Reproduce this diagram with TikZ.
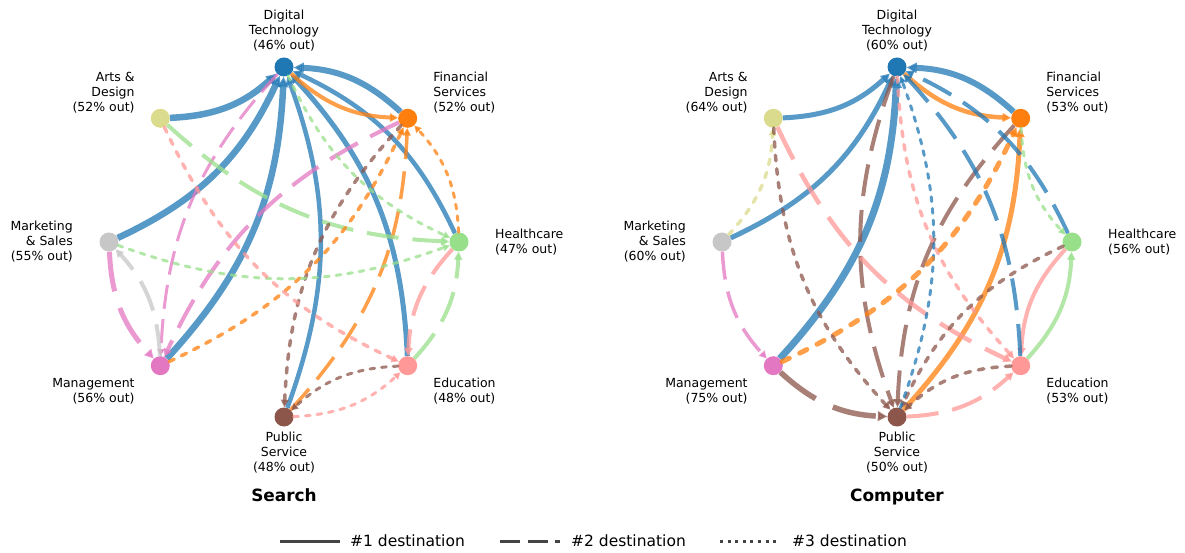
\documentclass[tikz,border=0pt]{standalone}
\usepackage{fontspec}
\setmainfont{DejaVu Sans}
\usetikzlibrary{arrows.meta, positioning}
\definecolor{dtblue}{HTML}{1F77B4}
\definecolor{fsorange}{HTML}{FF7F0E}
\definecolor{hcgreen}{HTML}{98DF8A}
\definecolor{edred}{HTML}{FF9896}
\definecolor{psbrown}{HTML}{8C564B}
\definecolor{mgpink}{HTML}{E377C2}
\definecolor{msgray}{HTML}{C7C7C7}
\definecolor{adolive}{HTML}{DBDB8D}
\definecolor{leggray}{HTML}{444444}
\tikzset{
  hub/.style={circle, inner sep=0pt, minimum size=19pt},
  tag/.style={inner sep=0pt, font=\fontsize{12.5}{15}\selectfont},
  flow/.style={opacity=0.75, -{Triangle[length=4pt 1, width=4pt 1]}},
  first/.style={flow, line width=#1pt},
  second/.style={flow, line width=#1pt, dash pattern=on 8*#1pt off 3.5*#1pt},
  third/.style={flow, line width=#1pt, line cap=round, dash pattern=on 1.6*#1pt off 2.3*#1pt},
  legline/.style={leggray, line width=3pt},
}

\begin{document}
\begin{tikzpicture}[x=1pt, y=1pt]
  \useasboundingbox (0,0) rectangle (1185,552);

  % Search
  \node[hub, fill=dtblue] (sdt) at (284,485) {};
  \node[hub, fill=fsorange] (sfs) at (407.7,433.7) {};
  \node[hub, fill=hcgreen] (shc) at (459,310) {};
  \node[hub, fill=edred] (sed) at (407.7,186.3) {};
  \node[hub, fill=psbrown] (sps) at (284,135) {};
  \node[hub, fill=mgpink] (smg) at (160.3,186.3) {};
  \node[hub, fill=msgray] (sms) at (109,310) {};
  \node[hub, fill=adolive] (sad) at (160.3,433.7) {};

  \node[tag, align=center] (sdt-tag) at (284,521) {Digital\\Technology\\(46\% out)};
  \node[tag, align=left, anchor=west] (sfs-tag) at (433.2,459.2) {Financial\\Services\\(52\% out)};
  \node[tag, align=left, anchor=west] (shc-tag) at (495,310) {Healthcare\\(47\% out)};
  \node[tag, align=left, anchor=west] (sed-tag) at (433.2,160.8) {Education\\(48\% out)};
  \node[tag, align=center] (sps-tag) at (284,99) {Public\\Service\\(48\% out)};
  \node[tag, align=right, anchor=east] (smg-tag) at (134.8,160.8) {Management\\(56\% out)};
  \node[tag, align=right, anchor=east] (sms-tag) at (73,310) {Marketing\\\& Sales\\(55\% out)};
  \node[tag, align=right, anchor=east] (sad-tag) at (134.8,459.2) {Arts \&\\Design\\(52\% out)};

  \draw[first=6.5, dtblue] (sad) to[bend right=20] (sdt);
  \draw[first=6.5, dtblue] (sms) to[bend right=20] (sdt);
  \draw[first=6.5, dtblue] (smg) to[bend right=20] (sdt);
  \draw[first=6, dtblue] (sfs) to[bend right=20] (sdt);
  \draw[first=4.5, dtblue] (shc) to[bend right=20] (sdt);
  \draw[first=5, dtblue] (sed) to[bend right=20] (sdt);
  \draw[first=4.5, dtblue] (sps) to[bend right=20] (sdt);
  \draw[first=4, fsorange] (sdt) to[bend right=20] (sfs);

  \draw[second=3, mgpink] (sdt) to[bend right=20] (smg);
  \draw[second=4, mgpink] (sfs) to[bend right=20] (smg);
  \draw[second=4, edred] (shc) to[bend right=20] (sed);
  \draw[second=4, hcgreen] (sed) to[bend right=20] (shc);
  \draw[second=3.5, fsorange] (sps) to[bend right=20] (sfs);
  \draw[second=4, msgray] (smg) to[bend right=20] (sms);
  \draw[second=5, mgpink] (sms) to[bend right=20] (smg);
  \draw[second=4, hcgreen] (sad) to[bend right=20] (shc);

  \draw[third=3, hcgreen] (sdt) to[bend right=20] (shc);
  \draw[third=3.5, psbrown] (sfs) to[bend right=20] (sps);
  \draw[third=3, fsorange] (shc) to[bend right=20] (sfs);
  \draw[third=3, psbrown] (sed) to[bend right=20] (sps);
  \draw[third=3, edred] (sps) to[bend right=20] (sed);
  \draw[third=3.5, fsorange] (smg) to[bend right=20] (sfs);
  \draw[third=3, hcgreen] (sms) to[bend right=20] (shc);
  \draw[third=3.5, edred] (sad) to[bend right=20] (sed);

  \node[anchor=base, font=\fontsize{16.9}{20}\selectfont\bfseries] (stitle) at (284,51) {Search};

  % Computer
  \node[hub, fill=dtblue] (cdt) at (897,485) {};
  \node[hub, fill=fsorange] (cfs) at (1020.7,433.7) {};
  \node[hub, fill=hcgreen] (chc) at (1072,310) {};
  \node[hub, fill=edred] (ced) at (1020.7,186.3) {};
  \node[hub, fill=psbrown] (cps) at (897,135) {};
  \node[hub, fill=mgpink] (cmg) at (773.3,186.3) {};
  \node[hub, fill=msgray] (cms) at (722,310) {};
  \node[hub, fill=adolive] (cad) at (773.3,433.7) {};

  \node[tag, align=center] (cdt-tag) at (897,521) {Digital\\Technology\\(60\% out)};
  \node[tag, align=left, anchor=west] (cfs-tag) at (1046.2,459.2) {Financial\\Services\\(53\% out)};
  \node[tag, align=left, anchor=west] (chc-tag) at (1108,310) {Healthcare\\(56\% out)};
  \node[tag, align=left, anchor=west] (ced-tag) at (1046.2,160.8) {Education\\(53\% out)};
  \node[tag, align=center] (cps-tag) at (897,99) {Public\\Service\\(50\% out)};
  \node[tag, align=right, anchor=east] (cmg-tag) at (747.8,160.8) {Management\\(75\% out)};
  \node[tag, align=right, anchor=east] (cms-tag) at (686,310) {Marketing\\\& Sales\\(60\% out)};
  \node[tag, align=right, anchor=east] (cad-tag) at (747.8,459.2) {Arts \&\\Design\\(64\% out)};

  \draw[first=4.5, fsorange] (cdt) to[bend right=20] (cfs);
  \draw[first=6, dtblue] (cfs) to[bend right=20] (cdt);
  \draw[first=4, edred] (chc) to[bend right=20] (ced);
  \draw[first=4, hcgreen] (ced) to[bend right=20] (chc);
  \draw[first=5, fsorange] (cps) to[bend right=20] (cfs);
  \draw[first=7, dtblue] (cmg) to[bend right=20] (cdt);
  \draw[first=5, dtblue] (cms) to[bend right=20] (cdt);
  \draw[first=5, dtblue] (cad) to[bend right=20] (cdt);

  \draw[second=4, psbrown] (cdt) to[bend right=20] (cps);
  \draw[second=4, psbrown] (cfs) to[bend right=20] (cps);
  \draw[second=4, dtblue] (chc) to[bend right=20] (cdt);
  \draw[second=4, dtblue] (ced) to[bend right=20] (cdt);
  \draw[second=4, edred] (cps) to[bend right=20] (ced);
  \draw[second=5.5, psbrown] (cmg) to[bend right=20] (cps);
  \draw[second=3.5, mgpink] (cms) to[bend right=20] (cmg);
  \draw[second=4.5, edred] (cad) to[bend right=20] (ced);

  \draw[third=3.5, edred] (cdt) to[bend right=20] (ced);
  \draw[third=3, hcgreen] (cfs) to[bend right=20] (chc);
  \draw[third=3.5, psbrown] (chc) to[bend right=20] (cps);
  \draw[third=3.5, psbrown] (ced) to[bend right=20] (cps);
  \draw[third=3, dtblue] (cps) to[bend right=20] (cdt);
  \draw[third=5, fsorange] (cmg) to[bend right=20] (cfs);
  \draw[third=3.5, adolive] (cms) to[bend right=20] (cad);
  \draw[third=3.5, psbrown] (cad) to[bend right=20] (cps);

  \node[anchor=base, font=\fontsize{16.9}{20}\selectfont\bfseries] (ctitle) at (897,51) {Computer};

  % legend
  \node[anchor=west, inner sep=0pt, font=\fontsize{15.5}{18}\selectfont] (key1) at (350,11) {\#1 destination};
  \node[anchor=west, inner sep=0pt, font=\fontsize{15.5}{18}\selectfont] (key2) at (571,11) {\#2 destination};
  \node[anchor=west, inner sep=0pt, font=\fontsize{15.5}{18}\selectfont] (key3) at (792,11) {\#3 destination};
  \draw[legline] ([xshift=-70pt]key1.west) -- ([xshift=-10pt]key1.west);
  \draw[legline, dash pattern=on 20pt off 7.5pt] ([xshift=-71pt]key2.west) -- ([xshift=-11pt]key2.west);
  \draw[legline, dash pattern=on 3pt off 4.6pt] ([xshift=-72pt]key3.west) -- ([xshift=-12pt]key3.west);
\end{tikzpicture}
\end{document}
